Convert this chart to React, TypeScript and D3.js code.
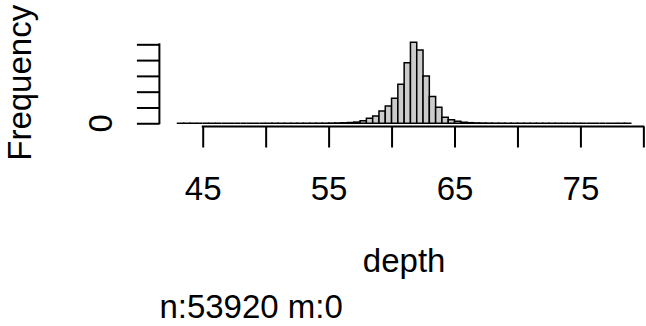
import React, { useEffect, useRef } from 'react';
import * as d3 from 'd3';

// histogram of depth, bins of 0.5 from 43 to 79
const firstBreak = 43;
const binWidth = 0.5;
const counts = [
    1, 1, 2, 0, 0, 1, 0, 0, 0, 0,
    0, 0, 0, 0, 2, 2, 1, 1, 1, 3,
    4, 5, 8, 12, 25, 40, 60, 95, 150, 330,
    630, 930, 1560, 2190, 3160, 4940, 7680, 10250, 9280, 5990,
    3380, 2030, 760, 450, 260, 130, 75, 45, 30, 20,
    12, 10, 6, 5, 4, 3, 3, 2, 2, 1,
    2, 0, 1, 1, 0, 0, 0, 0, 0, 0,
    1, 1,
];
const xTicks = [45, 50, 55, 60, 65, 70, 75, 80];
const xLabels = [45, 55, 65, 75];
const yTicks = [0, 2000, 4000, 6000, 8000, 10000];
const yLabels = [0];
const xTitle = 'depth';
const yTitle = 'Frequency';
const subTitle = 'n:53920 m:0';

const width = 646;
const height = 326;
const font = 'Liberation Sans, Arial, Helvetica, sans-serif';
const fontSize = 33;

function Histogram() {
    const svgRef = useRef(null);

    useEffect(() => {
        const svg = d3.select(svgRef.current);
        svg.selectAll('*').remove();

        const bins = counts.map((c, i) => ({
            x0: firstBreak + i * binWidth,
            x1: firstBreak + (i + 1) * binWidth,
            count: c,
        }));
        const lo = bins[0].x0;
        const hi = bins[bins.length - 1].x1;
        const maxCount = d3.max(counts);

        // R style 4% extension of both ranges
        const xPad = (hi - lo) * 0.04;
        const x = d3.scaleLinear()
            .domain([lo - xPad, hi + xPad])
            .range([159.4, 648.9]);
        const y = d3.scaleLinear()
            .domain([-maxCount * 0.04, maxCount * 1.04])
            .range([126.5, 39.1]);

        const tickLen = 21;

        // bars as closed paths so empty bins still show their outline
        svg.append('g')
            .selectAll('path')
            .data(bins)
            .join('path')
            .attr('d', d => {
                const p = d3.path();
                p.moveTo(x(d.x0), y(0));
                p.lineTo(x(d.x0), y(d.count));
                p.lineTo(x(d.x1), y(d.count));
                p.lineTo(x(d.x1), y(0));
                p.closePath();
                return p.toString();
            })
            .attr('fill', '#cccccc')
            .attr('stroke', '#000')
            .attr('stroke-width', 1.5);

        // x axis
        const xAxis = d3.axisBottom(x)
            .tickValues(xTicks)
            .tickSize(tickLen)
            .tickSizeOuter(0)
            .tickFormat(d => (xLabels.includes(d) ? String(d) : ''));
        const gx = svg.append('g')
            .attr('transform', `translate(0, ${y.range()[0]})`)
            .call(xAxis);
        gx.select('.domain').remove();
        gx.selectAll('line').attr('stroke-width', 2);
        gx.append('line')
            .attr('x1', x(xTicks[0]))
            .attr('x2', x(xTicks[xTicks.length - 1]))
            .attr('stroke', '#000')
            .attr('stroke-width', 2)
            .attr('stroke-linecap', 'square');
        gx.selectAll('text')
            .attr('y', 73.5)
            .attr('dy', null)
            .attr('fill', '#000')
            .style('font-family', font)
            .style('font-size', `${fontSize}px`);

        // y axis
        const yAxis = d3.axisLeft(y)
            .tickValues(yTicks)
            .tickSize(tickLen + 1.5)
            .tickSizeOuter(0)
            .tickFormat(() => '');
        const gy = svg.append('g')
            .attr('transform', `translate(${x.range()[0]}, 0)`)
            .call(yAxis);
        gy.select('.domain').remove();
        gy.selectAll('line').attr('stroke-width', 2);
        gy.append('line')
            .attr('y1', y(yTicks[0]))
            .attr('y2', y(yTicks[yTicks.length - 1]))
            .attr('stroke', '#000')
            .attr('stroke-width', 2)
            .attr('stroke-linecap', 'square');

        svg.append('g')
            .selectAll('text')
            .data(yLabels)
            .join('text')
            .attr('transform', d => `translate(111.7, ${y(d)}) rotate(-90)`)
            .attr('text-anchor', 'middle')
            .style('font-family', font)
            .style('font-size', `${fontSize}px`)
            .text(d => String(d));

        // titles
        svg.append('text')
            .attr('transform', `translate(30.6, ${(y.range()[0] + y.range()[1]) / 2}) rotate(-90)`)
            .attr('text-anchor', 'middle')
            .style('font-family', font)
            .style('font-size', `${fontSize}px`)
            .text(yTitle);

        svg.append('text')
            .attr('x', (x.range()[0] + x.range()[1]) / 2)
            .attr('y', 272)
            .attr('text-anchor', 'middle')
            .style('font-family', font)
            .style('font-size', `${fontSize}px`)
            .text(xTitle);

        svg.append('text')
            .attr('x', x.range()[0])
            .attr('y', 318)
            .attr('text-anchor', 'start')
            .style('font-family', font)
            .style('font-size', `${fontSize}px`)
            .text(subTitle);
    }, []);

    return (
        <svg
            ref={svgRef}
            width={width}
            height={height}
            style={{ position: 'absolute', left: 0, top: 0, background: '#fff' }}
        />
    );
}

export default function App() {
    return <Histogram />;
}
